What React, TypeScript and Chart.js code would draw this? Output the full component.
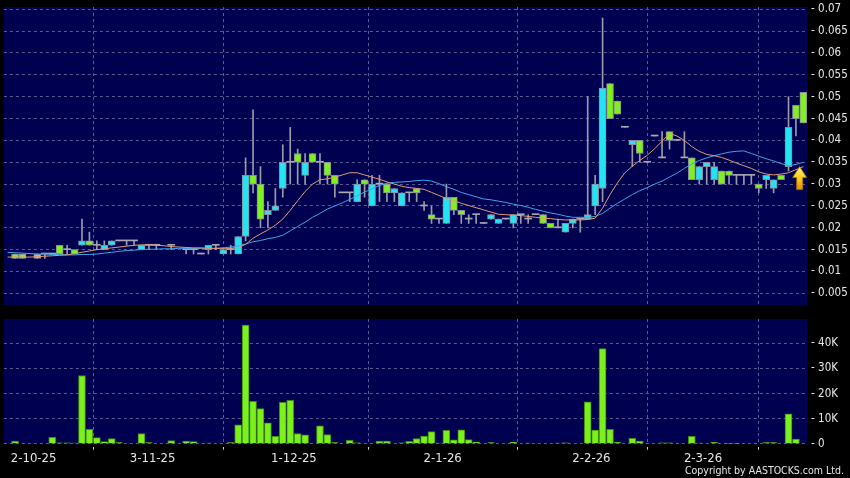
import React, { useEffect, useRef } from 'react';
import { Chart, registerables } from 'chart.js';

Chart.register(...registerables);

const n = null;

// Daily candles (index 0 = first slot on the chart)
const openP: (number | null)[] = [
  n, 0.014, 0.014, n, 0.014, 0.014, 0.014, 0.016, 0.015, 0.015,
  0.016, 0.017, 0.016, 0.015, 0.016, 0.017, 0.017, 0.017, 0.015, 0.016,
  0.016, n, 0.016, n, 0.015, 0.015, 0.014, 0.015, 0.016, 0.014,
  0.015, 0.014, 0.018, 0.032, 0.030, 0.023, 0.024, 0.029, 0.035, 0.037,
  0.032, 0.037, 0.035, 0.035, 0.032, 0.028, 0.028, 0.026, 0.031, 0.025,
  0.030, 0.030, 0.028, 0.025, 0.028, 0.029, 0.025, 0.023, 0.022, 0.021,
  0.027, 0.024, 0.022, 0.023, 0.021, 0.022, 0.021, 0.022, 0.021, 0.023,
  0.022, 0.023, 0.023, 0.021, 0.020, 0.019, 0.021, 0.022, 0.022, 0.025,
  0.029, 0.053, 0.049, 0.043, 0.039, 0.040, 0.035, 0.041, 0.036, 0.042,
  0.040, 0.036, 0.036, 0.031, 0.034, 0.031, 0.033, 0.033, 0.032, 0.032,
  0.032, 0.030, 0.031, 0.029, 0.032, 0.034, 0.048, 0.051,
];
const highP: (number | null)[] = [
  n, 0.014, 0.014, n, 0.014, 0.014, 0.014, 0.016, 0.016, 0.015,
  0.022, 0.019, 0.017, 0.017, 0.017, 0.017, 0.017, 0.017, 0.016, 0.016,
  0.016, n, 0.016, n, 0.015, 0.015, 0.014, 0.016, 0.016, 0.015,
  0.016, 0.018, 0.036, 0.047, 0.034, 0.026, 0.029, 0.039, 0.043, 0.038,
  0.037, 0.037, 0.037, 0.035, 0.032, 0.028, 0.028, 0.031, 0.031, 0.032,
  0.032, 0.030, 0.029, 0.028, 0.028, 0.029, 0.026, 0.025, 0.022, 0.030,
  0.027, 0.024, 0.023, 0.023, 0.021, 0.023, 0.022, 0.022, 0.023, 0.023,
  0.023, 0.023, 0.023, 0.021, 0.022, 0.021, 0.022, 0.022, 0.050, 0.032,
  0.068, 0.053, 0.049, 0.043, 0.040, 0.040, 0.035, 0.041, 0.042, 0.042,
  0.040, 0.042, 0.036, 0.034, 0.035, 0.035, 0.033, 0.033, 0.032, 0.032,
  0.032, 0.030, 0.032, 0.031, 0.032, 0.050, 0.048, 0.051,
];
const lowP: (number | null)[] = [
  n, 0.013, 0.013, n, 0.013, 0.013, 0.014, 0.014, 0.014, 0.014,
  0.016, 0.016, 0.015, 0.015, 0.016, 0.017, 0.016, 0.016, 0.015, 0.015,
  0.015, n, 0.015, n, 0.014, 0.014, 0.014, 0.014, 0.015, 0.014,
  0.014, 0.014, 0.017, 0.028, 0.020, 0.020, 0.024, 0.027, 0.030, 0.030,
  0.030, 0.035, 0.030, 0.030, 0.027, 0.028, 0.026, 0.026, 0.027, 0.025,
  0.026, 0.026, 0.026, 0.025, 0.026, 0.026, 0.024, 0.021, 0.021, 0.021,
  0.023, 0.021, 0.021, 0.021, 0.021, 0.022, 0.021, 0.022, 0.020, 0.021,
  0.021, 0.023, 0.021, 0.020, 0.020, 0.019, 0.020, 0.019, 0.022, 0.023,
  0.026, 0.045, 0.046, 0.043, 0.034, 0.035, 0.035, 0.041, 0.036, 0.038,
  0.040, 0.036, 0.031, 0.030, 0.030, 0.030, 0.030, 0.030, 0.030, 0.030,
  0.030, 0.028, 0.029, 0.028, 0.031, 0.033, 0.041, 0.044,
];
const closeP: (number | null)[] = [
  n, 0.013, 0.013, n, 0.013, 0.014, 0.014, 0.014, 0.015, 0.014,
  0.017, 0.016, 0.016, 0.016, 0.017, 0.017, 0.017, 0.017, 0.016, 0.016,
  0.016, n, 0.016, n, 0.015, 0.015, 0.014, 0.016, 0.016, 0.015,
  0.015, 0.018, 0.032, 0.030, 0.022, 0.024, 0.025, 0.035, 0.035, 0.035,
  0.035, 0.035, 0.035, 0.032, 0.030, 0.028, 0.028, 0.030, 0.030, 0.030,
  0.030, 0.028, 0.029, 0.028, 0.028, 0.028, 0.025, 0.022, 0.022, 0.027,
  0.024, 0.023, 0.022, 0.023, 0.021, 0.023, 0.022, 0.022, 0.023, 0.023,
  0.022, 0.023, 0.021, 0.020, 0.020, 0.021, 0.022, 0.022, 0.023, 0.030,
  0.052, 0.045, 0.046, 0.043, 0.040, 0.037, 0.035, 0.041, 0.036, 0.040,
  0.040, 0.036, 0.031, 0.034, 0.035, 0.034, 0.030, 0.032, 0.032, 0.032,
  0.032, 0.029, 0.032, 0.031, 0.031, 0.043, 0.045, 0.044,
];

// Daily volume, shares
const volume: number[] = [
  0, 1000, 0, 0, 0, 0, 2500, 300, 300, 200,
  27200, 5700, 2400, 800, 2000, 400, 0, 0, 4000, 400,
  0, 0, 1200, 0, 1000, 800, 0, 200, 0, 0,
  400, 7500, 47300, 16900, 14000, 8300, 2900, 16500, 17300, 4000,
  3500, 0, 7100, 3600, 400, 0, 1300, 300, 0, 0,
  1000, 1000, 0, 300, 900, 2000, 3000, 4800, 200, 5300,
  1500, 5500, 1600, 600, 0, 400, 0, 0, 600, 0,
  200, 0, 0, 0, 200, 300, 0, 0, 16700, 5400,
  37900, 5700, 500, 0, 2100, 1000, 0, 0, 300, 300,
  0, 0, 2900, 200, 0, 500, 0, 100, 100, 0,
  0, 0, 400, 400, 0, 11900, 1800, 0,
];

// Moving averages
const maShort: number[] = [
  0.0133, 0.0133, 0.0133, 0.0133, 0.0134, 0.0135, 0.0136, 0.0137, 0.0138, 0.0141,
  0.0144, 0.0147, 0.0150, 0.0152, 0.0154, 0.0156, 0.0158, 0.0160, 0.0161, 0.0161,
  0.0160, 0.0159, 0.0157, 0.0156, 0.0155, 0.0154, 0.0154, 0.0153, 0.0153, 0.0153,
  0.0153, 0.0155, 0.0162, 0.0176, 0.0186, 0.0195, 0.0206, 0.0220, 0.0240, 0.0262,
  0.0283, 0.0300, 0.0310, 0.0312, 0.0316, 0.0321, 0.0326, 0.0326, 0.0321, 0.0316,
  0.0311, 0.0305, 0.0300, 0.0295, 0.0292, 0.0290, 0.0288, 0.0281, 0.0274, 0.0267,
  0.0262, 0.0256, 0.0251, 0.0246, 0.0241, 0.0236, 0.0231, 0.0230, 0.0229, 0.0228,
  0.0226, 0.0224, 0.0222, 0.0221, 0.0219, 0.0218, 0.0218, 0.0218, 0.0219, 0.0222,
  0.0245, 0.0276, 0.0303, 0.0326, 0.0341, 0.0354, 0.0366, 0.0381, 0.0398, 0.0416,
  0.0410, 0.0400, 0.0386, 0.0375, 0.0368, 0.0365, 0.0361, 0.0355, 0.0348, 0.0342,
  0.0336, 0.0328, 0.0323, 0.0321, 0.0323, 0.0326, 0.0333, 0.0340,
];
const maLong: number[] = [
  0.0144, 0.0143, 0.0142, 0.0141, 0.0140, 0.0140, 0.0139, 0.0139, 0.0138, 0.0138,
  0.0139, 0.0139, 0.0140, 0.0142, 0.0144, 0.0146, 0.0148, 0.0149, 0.0150, 0.0151,
  0.0151, 0.0152, 0.0152, 0.0153, 0.0153, 0.0153, 0.0153, 0.0153, 0.0153, 0.0154,
  0.0156, 0.0158, 0.0163, 0.0168, 0.0171, 0.0175, 0.0178, 0.0183, 0.0193, 0.0203,
  0.0213, 0.0224, 0.0233, 0.0243, 0.0250, 0.0257, 0.0265, 0.0273, 0.0282, 0.0289,
  0.0297, 0.0302, 0.0304, 0.0305, 0.0306, 0.0308, 0.0309, 0.0307, 0.0301, 0.0294,
  0.0288, 0.0281, 0.0276, 0.0271, 0.0266, 0.0264, 0.0261, 0.0258, 0.0254, 0.0251,
  0.0247, 0.0242, 0.0238, 0.0234, 0.0231, 0.0227, 0.0224, 0.0224, 0.0224, 0.0226,
  0.0233, 0.0245, 0.0256, 0.0266, 0.0276, 0.0285, 0.0292, 0.0300, 0.0307, 0.0316,
  0.0325, 0.0336, 0.0346, 0.0354, 0.0360, 0.0365, 0.0369, 0.0373, 0.0375, 0.0376,
  0.0370, 0.0364, 0.0358, 0.0353, 0.0347, 0.0342, 0.0345, 0.0350,
];

const priceTicks = [0.005, 0.01, 0.015, 0.02, 0.025, 0.03, 0.035, 0.04, 0.045, 0.05, 0.055, 0.06, 0.065, 0.07];
const priceTickLabels = ['0.005', '0.01', '0.015', '0.02', '0.025', '0.03', '0.035', '0.04', '0.045', '0.05', '0.055', '0.06', '0.065', '0.07'];
const volumeTicks = [0, 10000, 20000, 30000, 40000];
const volumeTickLabels = ['0', '10K', '20K', '30K', '40K'];
const dateTickPos = [3.5, 19.5, 38.5, 58.5, 78.5, 93.5];
const dateTickLabels = ['2-10-25', '3-11-25', '1-12-25', '2-1-26', '2-2-26', '2-3-26'];
const signalArrow = { x: 106.5, y: 0.034 };

const PRICE_MIN = 0.002334;
const PRICE_MAX = 0.070526;
const VOL_MAX = 49720;
const X_MIN = -0.5;
const X_MAX = 107.5;

const NAVY = '#000050';
const GRID = '#5a5a92';
const TXT = '#e6e6e6';
const CYAN = '#22e4f2';
const GREEN = '#80f020';
const DOJI = '#a8a8b4';
const EDGE = '#8c8ca0';
const WICK = '#9a9aac';
const ORANGE = '#e49a74';
const BLUE = '#3fa6e6';
const VOL_FILL = '#7cf01c';
const VOL_EDGE = '#3f8a10';
const FONT = "'DejaVu Sans Condensed', 'DejaVu Sans', sans-serif";

const plotBg = {
  id: 'plotBg',
  beforeDraw(chart: any) {
    const { ctx, chartArea: a } = chart;
    ctx.save();
    ctx.fillStyle = NAVY;
    ctx.fillRect(a.left, a.top, a.right - a.left, a.bottom - a.top);
    ctx.restore();
  },
};

const arrowPlugin = {
  id: 'signalArrow',
  afterDatasetsDraw(chart: any) {
    const { ctx } = chart;
    const x = chart.scales.x.getPixelForValue(signalArrow.x);
    const y = chart.scales.y.getPixelForValue(signalArrow.y);
    const hw = 7, headH = 11, sw = 3, total = 23;
    ctx.save();
    const g = ctx.createLinearGradient(0, y, 0, y + total);
    g.addColorStop(0, '#fff27a');
    g.addColorStop(0.5, '#ffd020');
    g.addColorStop(1, '#d89000');
    ctx.beginPath();
    ctx.moveTo(x, y);
    ctx.lineTo(x + hw, y + headH);
    ctx.lineTo(x + sw, y + headH);
    ctx.lineTo(x + sw, y + total);
    ctx.lineTo(x - sw, y + total);
    ctx.lineTo(x - sw, y + headH);
    ctx.lineTo(x - hw, y + headH);
    ctx.closePath();
    ctx.fillStyle = g;
    ctx.fill();
    ctx.strokeStyle = '#b07000';
    ctx.lineWidth = 0.8;
    ctx.stroke();
    ctx.restore();
  },
};

const noPad = (s: any) => {
  s.paddingTop = 0;
  s.paddingBottom = 0;
  s.paddingLeft = 0;
  s.paddingRight = 0;
};

function priceConfig(): any {
  const idx = closeP.map((_, i) => i).filter((i) => openP[i] != null);
  const bodyColors = idx.map((i) =>
    (closeP[i] as number) > (openP[i] as number) ? CYAN : (closeP[i] as number) < (openP[i] as number) ? GREEN : DOJI
  );
  const bodyBorder = idx.map((i) => (closeP[i] === openP[i] ? 0 : 1));
  return {
    type: 'bar',
    data: {
      datasets: [
        {
          type: 'line',
          data: maShort.map((v, i) => ({ x: i, y: v })),
          borderColor: ORANGE,
          borderWidth: 1,
          pointRadius: 0,
          tension: 0,
          order: 0,
        },
        {
          type: 'line',
          data: maLong.map((v, i) => ({ x: i, y: v })),
          borderColor: BLUE,
          borderWidth: 1,
          pointRadius: 0,
          tension: 0,
          order: 0,
        },
        {
          type: 'bar',
          data: idx.map((i) => ({ x: i, y: [openP[i], closeP[i]] })),
          backgroundColor: bodyColors,
          borderColor: EDGE,
          borderWidth: bodyBorder,
          borderSkipped: false,
          barThickness: 7,
          minBarLength: 1,
          grouped: false,
          order: 1,
        },
        {
          type: 'bar',
          data: idx.map((i) => ({ x: i, y: [lowP[i], highP[i]] })),
          backgroundColor: WICK,
          borderWidth: 0,
          barThickness: 1,
          grouped: false,
          order: 2,
        },
      ],
    },
    options: {
      responsive: false,
      animation: false,
      devicePixelRatio: 1,
      layout: { padding: { left: 3.9, top: 7, right: 0, bottom: 6 } },
      plugins: { legend: { display: false }, tooltip: { enabled: false }, title: { display: false } },
      scales: {
        x: {
          type: 'linear',
          min: X_MIN,
          max: X_MAX,
          offset: false,
          afterBuildTicks: (s: any) => {
            s.ticks = dateTickPos.map((v) => ({ value: v }));
          },
          afterFit: (s: any) => {
            s.height = 0;
            noPad(s);
          },
          ticks: { display: false },
          grid: { color: GRID, lineWidth: 1, drawTicks: false },
          border: { display: false, dash: [3, 3] },
        },
        y: {
          type: 'linear',
          position: 'right',
          min: PRICE_MIN,
          max: PRICE_MAX,
          afterBuildTicks: (s: any) => {
            s.ticks = priceTicks.map((v) => ({ value: v }));
          },
          afterFit: (s: any) => {
            s.width = 42.9;
            noPad(s);
          },
          ticks: {
            color: TXT,
            padding: 4,
            font: { family: FONT, size: 11.5 },
            callback: (_v: any, i: number) => '- ' + priceTickLabels[i],
          },
          grid: { color: GRID, lineWidth: 1, drawTicks: false },
          border: { display: false, dash: [3, 3] },
        },
      },
    },
    plugins: [plotBg, arrowPlugin],
  };
}

function volumeConfig(): any {
  const idx = volume.map((_, i) => i).filter((i) => volume[i] > 0);
  return {
    type: 'bar',
    data: {
      datasets: [
        {
          data: idx.map((i) => ({ x: i, y: volume[i] })),
          backgroundColor: VOL_FILL,
          borderColor: VOL_EDGE,
          borderWidth: 1,
          barThickness: 7,
          grouped: false,
        },
      ],
    },
    options: {
      responsive: false,
      animation: false,
      devicePixelRatio: 1,
      layout: { padding: { left: 3.9, top: 8, right: 6, bottom: 0 } },
      plugins: {
        legend: { display: false },
        tooltip: { enabled: false },
        title: {
          display: true,
          text: 'Copyright by AASTOCKS.com Ltd.',
          position: 'bottom',
          align: 'end',
          color: TXT,
          font: { family: FONT, size: 10.5, weight: 'normal', lineHeight: 1.2 },
          padding: { top: 0, bottom: 0 },
        },
      },
      scales: {
        x: {
          type: 'linear',
          min: X_MIN,
          max: X_MAX,
          offset: false,
          afterBuildTicks: (s: any) => {
            s.ticks = dateTickPos.map((v) => ({ value: v }));
          },
          afterFit: (s: any) => {
            s.height = 21.7;
            noPad(s);
          },
          ticks: {
            color: TXT,
            padding: 1,
            maxRotation: 0,
            autoSkip: false,
            font: { family: FONT, size: 13 },
            callback: (_v: any, i: number) => dateTickLabels[i],
          },
          grid: {
            color: GRID,
            lineWidth: 1,
            drawTicks: true,
            tickLength: 6,
            tickColor: '#d0d0d0',
            tickBorderDash: [0, 3, 3, 30],
          },
          border: { display: false, dash: [3, 3] },
        },
        y: {
          type: 'linear',
          position: 'right',
          min: 0,
          max: VOL_MAX,
          afterBuildTicks: (s: any) => {
            s.ticks = volumeTicks.map((v) => ({ value: v }));
          },
          afterFit: (s: any) => {
            s.width = 36.9;
            noPad(s);
          },
          ticks: {
            color: TXT,
            padding: 4,
            font: { family: FONT, size: 11.5 },
            callback: (_v: any, i: number) => '- ' + volumeTickLabels[i],
          },
          grid: { color: GRID, lineWidth: 1, drawTicks: false },
          border: { display: false, dash: [3, 3] },
        },
      },
    },
    plugins: [plotBg],
  };
}

export default function App() {
  const priceRef = useRef<HTMLCanvasElement>(null);
  const volRef = useRef<HTMLCanvasElement>(null);

  useEffect(() => {
    document.body.style.margin = '0';
    document.body.style.background = '#000';
    const price = new Chart(priceRef.current as HTMLCanvasElement, priceConfig());
    const vol = new Chart(volRef.current as HTMLCanvasElement, volumeConfig());
    return () => {
      price.destroy();
      vol.destroy();
    };
  }, []);

  return (
    <div style={{ position: 'relative', width: 850, height: 478, background: '#000', overflow: 'hidden' }}>
      <canvas
        ref={priceRef}
        width={850}
        height={311}
        style={{ position: 'absolute', left: 0, top: 0, width: 850, height: 311, display: 'block' }}
      />
      <canvas
        ref={volRef}
        width={850}
        height={167}
        style={{ position: 'absolute', left: 0, top: 311, width: 850, height: 167, display: 'block' }}
      />
    </div>
  );
}
